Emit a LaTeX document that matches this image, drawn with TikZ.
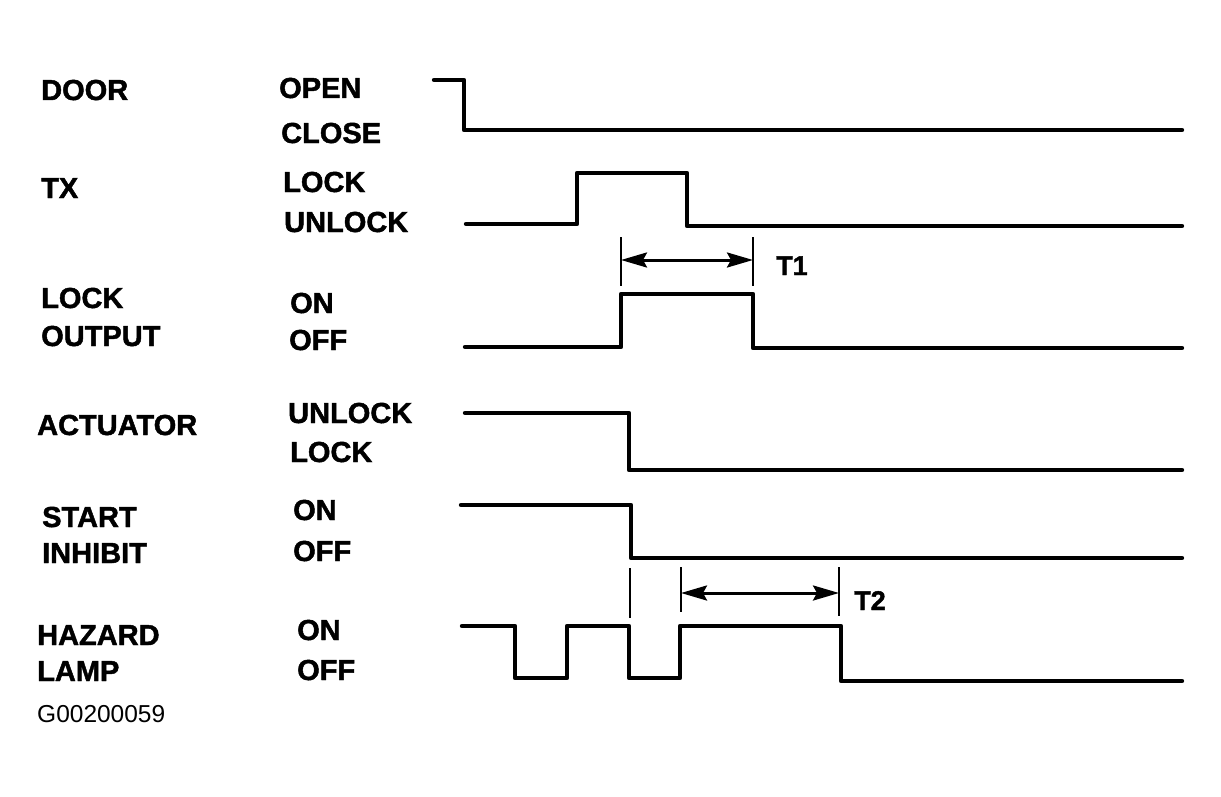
\documentclass[tikz,border=0pt]{standalone}
\usepackage{fontspec}
\setmainfont{Liberation Sans}[BoldFeatures={FakeBold=1.6}]
\usetikzlibrary{arrows.meta}
\begin{document}
\begin{tikzpicture}[x=1pt,y=-1pt,
  sig/.style={line width=4.4pt,line join=round,line cap=round},
  tick/.style={line width=2.2pt},
  dim/.style={line width=3pt,{Stealth[length=26pt,width=15pt,inset=4pt]}-{Stealth[length=26pt,width=15pt,inset=4pt]}},
  lbl/.style={anchor=base west,inner sep=0pt,font=\fontsize{29}{30}\selectfont\bfseries},
  code/.style={anchor=base west,inner sep=0pt,font=\fontsize{24.5}{26}\selectfont}]
\useasboundingbox (0,0) rectangle (1221,797);
% left labels
\node[lbl] (door) at (41,100) {DOOR};
\node[lbl] (tx) at (41,198) {TX};
\node[lbl] (lock1) at (41,308) {LOCK};
\node[lbl] (output) at (41,346) {OUTPUT};
\node[lbl] (actuator) at (37,435) {ACTUATOR};
\node[lbl] (start) at (42,527) {START};
\node[lbl] (inhibit) at (42,563) {INHIBIT};
\node[lbl] (hazard) at (37,645) {HAZARD};
\node[lbl] (lamp) at (37,681) {LAMP};
\node[code] (gcode) at (37,722) {G00200059};
% state labels
\node[lbl] (open) at (279,98) {OPEN};
\node[lbl] (close) at (281,143) {CLOSE};
\node[lbl] (txlock) at (283,192) {LOCK};
\node[lbl] (txunlock) at (284,232) {UNLOCK};
\node[lbl] (loon) at (290,313) {ON};
\node[lbl] (looff) at (289,350) {OFF};
\node[lbl] (acunlock) at (288,423) {UNLOCK};
\node[lbl] (aclock) at (290,462) {LOCK};
\node[lbl] (sion) at (293,520) {ON};
\node[lbl] (sioff) at (293,561) {OFF};
\node[lbl] (hzon) at (297,640) {ON};
\node[lbl] (hzoff) at (297,680) {OFF};
% signals
\draw[sig] (434,80) -- (464,80) -- (464,130) -- (1182,130);
\draw[sig] (466,224) -- (577,224) -- (577,173) -- (687,173) -- (687,226) -- (1182,226);
\draw[sig] (465,347) -- (621,347) -- (621,294) -- (753,294) -- (753,348) -- (1182,348);
\draw[sig] (465,413) -- (629,413) -- (629,470) -- (1182,470);
\draw[sig] (461,505) -- (631,505) -- (631,558) -- (1182,558);
\draw[sig] (462,626) -- (515,626) -- (515,678) -- (567,678) -- (567,626) -- (629,626) -- (629,678) -- (680,678) -- (680,626) -- (841,626) -- (841,681) -- (1182,681);
% T1
\coordinate (t1a) at (621,260);
\coordinate (t1b) at (753,260);
\draw[tick] (621,237) -- (621,286);
\draw[tick] (753,237) -- (753,286);
\draw[dim] (t1a) -- (t1b);
\node[lbl,font=\fontsize{27}{28}\selectfont\bfseries] (t1) at (776,275) {T1};
% T2
\coordinate (t2a) at (681,593);
\coordinate (t2b) at (839,593);
\draw[tick] (630,568) -- (630,618);
\draw[tick] (681,567) -- (681,612);
\draw[tick] (839,567) -- (839,616);
\draw[dim] (t2a) -- (t2b);
\node[lbl,font=\fontsize{27}{28}\selectfont\bfseries] (t2) at (854,610) {T2};
\end{tikzpicture}
\end{document}
